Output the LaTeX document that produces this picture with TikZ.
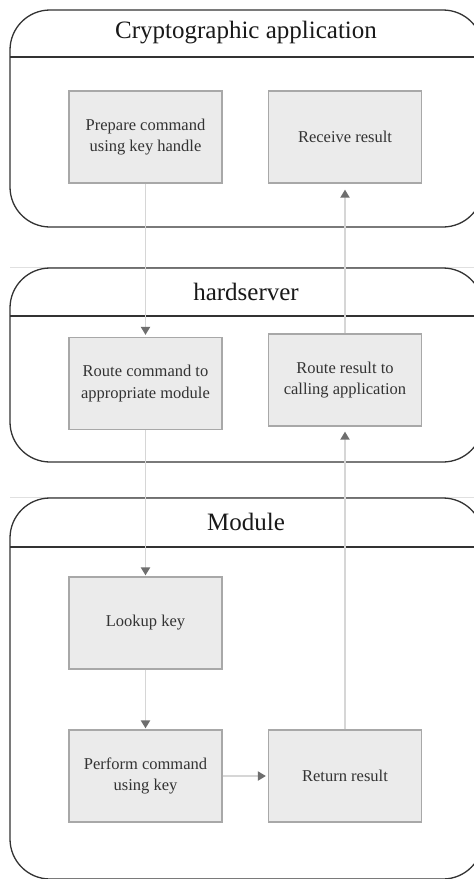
\documentclass[tikz,border=0pt]{standalone}
\usepackage{fontspec}
\setmainfont{Liberation Serif}
\usetikzlibrary{arrows.meta}
\definecolor{boxfill}{HTML}{EBEBEB}
\definecolor{boxline}{HTML}{A8A8A8}
\definecolor{flow}{HTML}{D6D6D6}
\definecolor{headc}{HTML}{6E6E6E}
\definecolor{framec}{HTML}{333333}
\begin{document}
\begin{tikzpicture}[x=1pt,y=-1pt,
 stepbox/.style={draw=boxline, fill=boxfill, line width=1.2pt, minimum width=153pt, minimum height=92pt, inner sep=2pt, align=center, text=black!80, font=\fontsize{16.5}{21.5}\selectfont},
 lane/.style={draw=framec, line width=1.3pt, rounded corners=40pt, fill=white},
 headline/.style={draw=framec, line width=1.3pt},
 title/.style={font=\fontsize{25}{30}\selectfont, text=black!90},
 flowline/.style={draw=flow, line width=1.8pt, -{Triangle[width=9pt,length=8pt,color=headc]}},
 sepline/.style={draw=black!12, line width=1pt}]
\useasboundingbox (0,0) rectangle (474,879);
\clip (0,0) rectangle (474,879);
% separators
\draw[sepline] (10,267) -- (474,267);
\draw[sepline] (10,497) -- (474,497);
% lanes
\path[lane] (10,10) rectangle (483,227);
\draw[headline] (10,57) -- (483,57);
\node[title] (t1) at (246,33) {Cryptographic application};
\path[lane] (10,268) rectangle (483,462);
\draw[headline] (10,316) -- (483,316);
\node[title] (t2) at (246,292) {hardserver};
\path[lane] (10,498) rectangle (483,879);
\draw[headline] (10,547) -- (483,547);
\node[title] (t3) at (246,522) {Module};
% steps
\node[stepbox] (prep) at (145.5,137) {Prepare command\\using key handle};
\node[stepbox] (recv) at (345,137) {Receive result};
\node[stepbox] (rcmd) at (145.5,383.5) {Route command to\\appropriate module};
\node[stepbox] (rres) at (345,380) {Route result to\\calling application};
\node[stepbox] (look) at (145.5,623) {Lookup key};
\node[stepbox] (perf) at (145.5,776) {Perform command\\using key};
\node[stepbox] (ret) at (345,776) {Return result};
% flows
\draw[flowline, shorten >=2pt] (prep) -- (rcmd);
\draw[flowline, shorten >=1pt] (rcmd) -- (look);
\draw[flowline, shorten >=1pt] (look) -- (perf);
\draw[flowline, shorten >=2pt] (perf) -- (ret);
\draw[flowline, shorten >=5pt] (ret) -- (rres);
\draw[flowline, shorten >=6pt] (rres) -- (recv);
\end{tikzpicture}
\end{document}
